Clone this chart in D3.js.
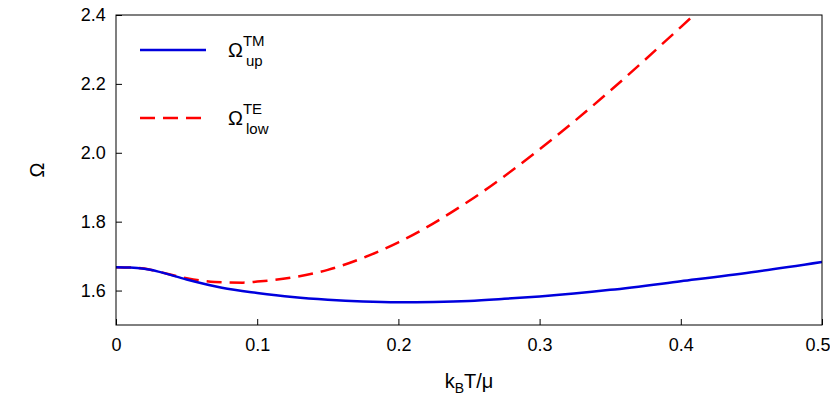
<!DOCTYPE html>
<html><head><meta charset="utf-8">
<script src="https://cdn.jsdelivr.net/npm/d3@7"></script>
<style>body{margin:0;background:#fff}text{font-family:"Liberation Sans",Arial,sans-serif}</style>
</head><body><svg id="c" width="830" height="415"></svg>
<script>
// readings from the picture
const tmX = [0, 0.01, 0.02, 0.03, 0.05, 0.075, 0.1, 0.125, 0.15, 0.175, 0.2, 0.225, 0.25, 0.275, 0.3, 0.35, 0.4, 0.45, 0.5]
const tmY = [1.668, 1.667, 1.663, 1.655, 1.632, 1.608, 1.593, 1.581, 1.573, 1.568, 1.566, 1.567, 1.57, 1.576, 1.583, 1.602, 1.627, 1.653, 1.683]
const teX = [0, 0.01, 0.02, 0.03, 0.05, 0.07, 0.09, 0.1, 0.125, 0.15, 0.175, 0.2, 0.25, 0.3, 0.35, 0.4, 0.412]
const teY = [1.668, 1.667, 1.664, 1.655, 1.636, 1.625, 1.623, 1.626, 1.638, 1.66, 1.695, 1.74, 1.86, 2.01, 2.18, 2.365, 2.41]
const xTicks = [0, 0.1, 0.2, 0.3, 0.4, 0.5]
const yTicks = [1.6, 1.8, 2.0, 2.2, 2.4]

let svg = d3.select("#c")
let m = {l: 116, r: 822, t: 15, b: 325}
let x = d3.scaleLinear().domain([0, 0.5]).range([m.l, m.r])
let y = d3.scaleLinear().domain([1.5, 2.4]).range([m.b, m.t])

svg.append("defs").append("clipPath").attr("id", "clip")
    .append("rect").attr("x", m.l).attr("y", m.t).attr("width", m.r - m.l).attr("height", m.b - m.t)

let line = d3.line().x(d => x(d[0])).y(d => y(d[1])).curve(d3.curveMonotoneX)
let g = svg.append("g").attr("clip-path", "url(#clip)")
g.append("path").datum(d3.zip(teX, teY)).attr("d", line)
    .attr("fill", "none").attr("stroke", "#ff0000").attr("stroke-width", 2.5).attr("stroke-dasharray", "15,8")
g.append("path").datum(d3.zip(tmX, tmY)).attr("d", line)
    .attr("fill", "none").attr("stroke", "#0000dd").attr("stroke-width", 2.5)

let ax = svg.append("g").attr("transform", `translate(0,${m.b})`)
    .call(d3.axisBottom(x).tickValues(xTicks).tickFormat(d => d).tickSize(-6).tickSizeOuter(0))
ax.call(gg => gg.selectAll("text").attr("dy", "1.3em"))
ax.selectAll(".tick:last-of-type text").attr("text-anchor", "end").attr("dx", 8)
let ay = svg.append("g").attr("transform", `translate(${m.l},0)`)
    .call(d3.axisLeft(y).tickValues(yTicks).tickFormat(d3.format(".1f")).tickSize(-6).tickSizeOuter(0))
ay.call(gg => gg.selectAll("text").attr("dx", "-0.4em"))
svg.selectAll(".tick text").attr("font-size", 18).attr("fill", "#000")
svg.selectAll(".tick line").attr("stroke", "#000")
svg.selectAll(".domain").remove()
svg.append("rect").attr("x", m.l).attr("y", m.t).attr("width", m.r - m.l).attr("height", m.b - m.t)
    .attr("fill", "none").attr("stroke", "#000").attr("stroke-width", 1)

let xl = svg.append("text").attr("x", 469).attr("y", 388).attr("text-anchor", "middle").attr("font-size", 20)
xl.append("tspan").text("k")
xl.append("tspan").text("B").attr("font-size", 14).attr("dy", 5)
xl.append("tspan").text("T/μ").attr("dy", -5)
svg.append("text").attr("x", 44).attr("y", 170).attr("text-anchor", "middle").attr("font-size", 20)
    .attr("transform", "rotate(-90,44,170)").text("Ω")

let leg = [{c: "#0000dd", d: null, sup: "TM", sub: "up", y: 50}, {c: "#ff0000", d: "15,8", sup: "TE", sub: "low", y: 118}]
for (let l of leg) {
    svg.append("line").attr("x1", 140).attr("x2", 206).attr("y1", l.y).attr("y2", l.y)
        .attr("stroke", l.c).attr("stroke-width", 2.5).attr("stroke-dasharray", l.d)
    let t = svg.append("text").attr("x", 228).attr("y", l.y + 7).attr("font-size", 20)
    t.append("tspan").text("Ω")
    t.append("tspan").text(l.sup).attr("font-size", 15).attr("dy", -11)
    t.append("tspan").text(l.sub).attr("font-size", 15).attr("x", 246).attr("dy", 20)
}
</script></body></html>
